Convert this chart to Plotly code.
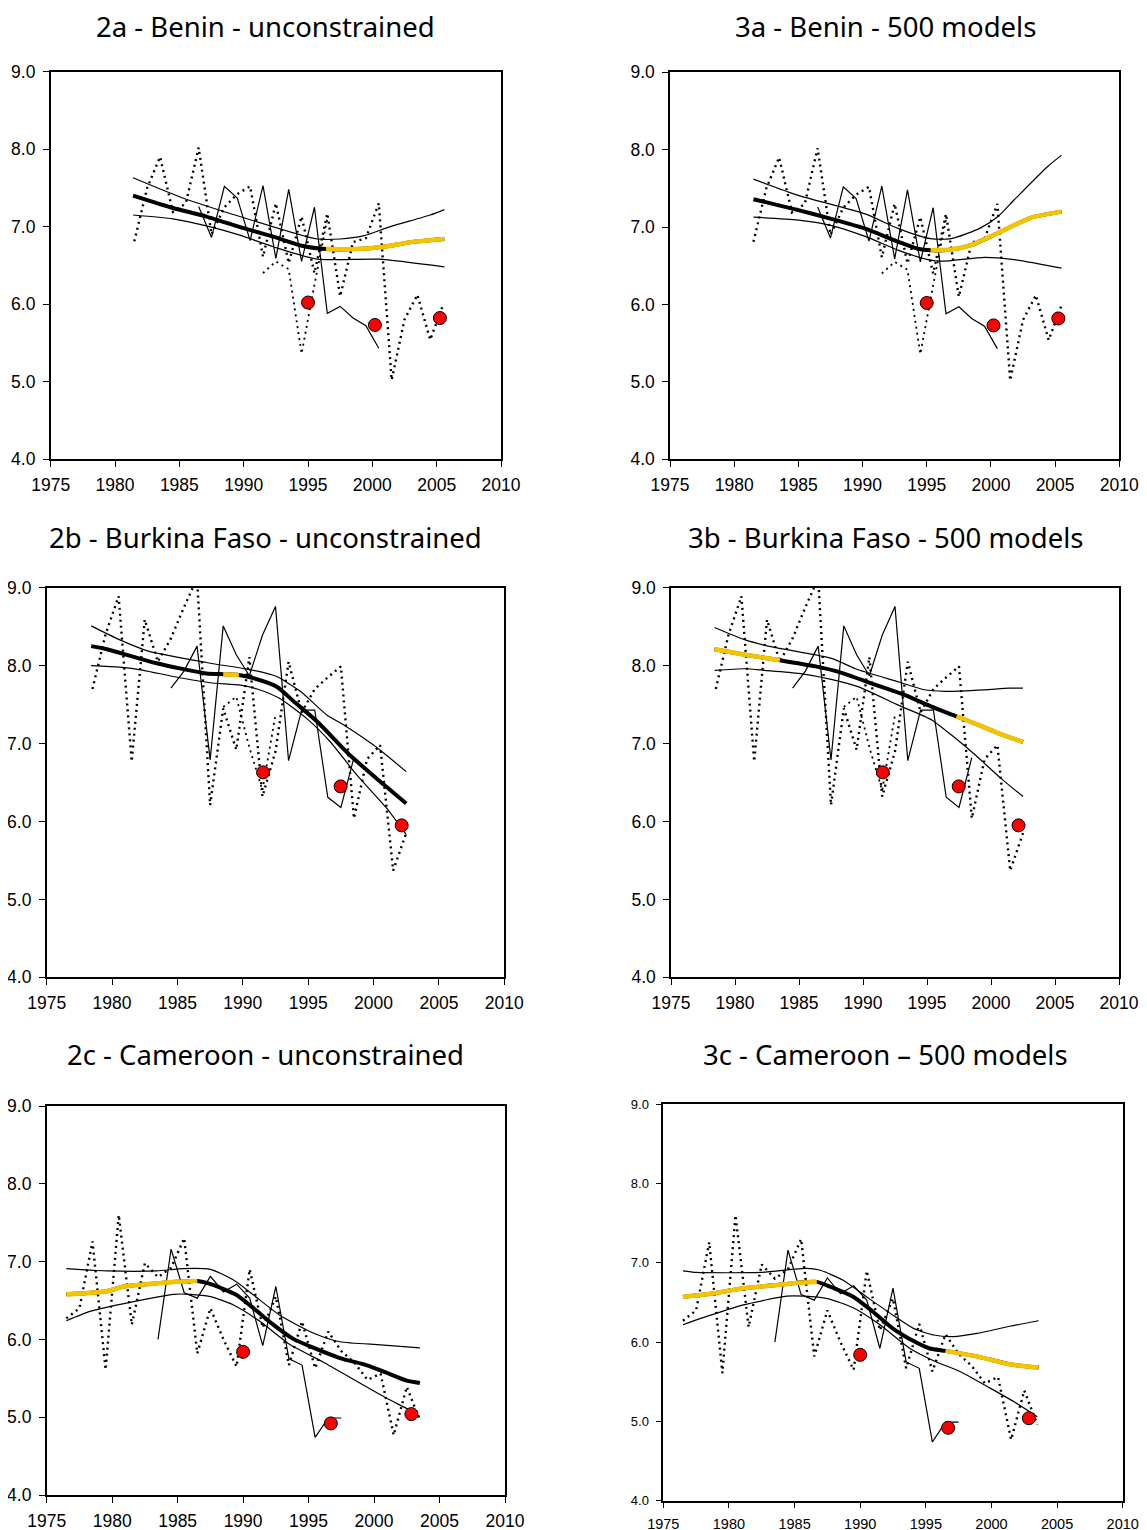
import plotly.graph_objects as go

# ---------------- DATA ----------------
# Observed series (shared by the "2" and "3" panels of each country)
benin_dot_a_x = [1981.5, 1982.5, 1983.5, 1984.5, 1985.5, 1986.5, 1987.5, 1988.5, 1989.5, 1990.5,
                 1991.5, 1992.5, 1993.5, 1994.5, 1995.5, 1996.5, 1997.5, 1998.5, 1999.5, 2000.5,
                 2001.5, 2002.5, 2003.5, 2004.5, 2005.5]
benin_dot_a_y = [6.81, 7.50, 7.90, 7.19, 7.30, 8.02, 6.90, 7.25, 7.42, 7.52,
                 6.61, 7.30, 6.53, 7.13, 6.40, 7.17, 6.10, 6.80, 6.85, 7.30,
                 5.02, 5.80, 6.12, 5.54, 5.99]
benin_dot_b_x = [1991.5, 1992.5, 1993.5, 1994.5, 1995.5, 1996.5]
benin_dot_b_y = [6.40, 6.55, 6.45, 5.36, 6.25, 7.10]
benin_solid_x = [1986.5, 1987.5, 1988.5, 1989.5, 1990.5, 1991.5, 1992.5, 1993.5, 1994.5, 1995.5,
                 1996.5, 1997.5, 1998.5, 1999.5, 2000.5]
benin_solid_y = [7.26, 6.86, 7.52, 7.37, 6.82, 7.53, 6.59, 7.48, 6.55, 7.25,
                 5.88, 5.97, 5.82, 5.72, 5.43]
benin_red_x = [1995.0, 2000.2, 2005.25]
benin_red_y = [6.02, 5.73, 5.82]

burkina_dot_a_x = [1978.5, 1979.5, 1980.5, 1981.5, 1982.5, 1983.5, 1984.5, 1985.5, 1986.5, 1987.5,
                   1988.5, 1989.5, 1990.5, 1991.5, 1992.5, 1993.5, 1994.5, 1995.5, 1996.5, 1997.5,
                   1998.5, 1999.5, 2000.5, 2001.5, 2002.5]
burkina_dot_a_y = [7.70, 8.40, 8.89, 6.77, 8.59, 8.05, 8.35, 8.75, 9.12, 6.21,
                   7.45, 6.92, 8.11, 6.32, 6.90, 8.05, 7.40, 7.70, 7.85, 7.99,
                   6.04, 6.80, 6.98, 5.37, 5.85]
burkina_dot_b_x = [1988.5, 1989.5, 1990.5, 1991.5, 1992.5]
burkina_dot_b_y = [7.47, 7.60, 6.95, 6.40, 7.37]
burkina_solid_x = [1984.5, 1985.5, 1986.5, 1987.5, 1988.5, 1989.5, 1990.5, 1991.5, 1992.5, 1993.5,
                   1994.5, 1995.5, 1996.5, 1997.5, 1998.5]
burkina_solid_y = [7.71, 7.93, 8.25, 6.79, 8.51, 8.14, 7.87, 8.39, 8.76, 6.78,
                   7.43, 7.43, 6.31, 6.18, 6.82]
burkina_red_x = [1991.55, 1997.48, 2002.15]
burkina_red_y = [6.63, 6.45, 5.95]

cameroon_dot_a_x = [1976.5, 1977.5, 1978.5, 1979.5, 1980.5, 1981.5, 1982.5, 1983.5, 1984.5, 1985.5,
                    1986.5, 1987.5, 1988.5, 1989.5, 1990.5, 1991.5, 1992.5, 1993.5, 1994.5, 1995.5,
                    1996.5, 1997.5, 1998.5, 1999.5, 2000.5, 2001.5, 2002.5, 2003.5]
cameroon_dot_a_y = [6.27, 6.40, 7.26, 5.61, 7.60, 6.19, 6.98, 6.80, 6.92, 7.30,
                    5.82, 6.40, 6.00, 5.65, 6.90, 6.15, 6.55, 5.67, 6.23, 5.63,
                    6.10, 5.85, 5.70, 5.48, 5.56, 4.77, 5.39, 4.96]
cameroon_solid_x = [1983.5, 1984.5, 1985.5, 1986.5, 1987.5, 1988.5, 1989.5, 1990.5, 1991.5, 1992.5,
                    1993.5, 1994.5, 1995.5, 1996.5, 1997.5]
cameroon_solid_y = [6.00, 7.16, 6.60, 6.53, 6.81, 6.61, 6.71, 6.53, 5.92, 6.68,
                    5.75, 5.67, 4.74, 4.99, 4.99]
cameroon_red_x = [1990.0, 1996.7, 2002.85]
cameroon_red_y = [5.84, 4.92, 5.04]

# Model fits: thick line, upper band, lower band; yellow spans are index ranges of the thick line
p2a_thick_x = [1981.4, 1984.5, 1987.1, 1990.0, 1992.3, 1994.6, 1996.4, 1998.8, 2000.9, 2003.0, 2005.6]
p2a_thick_y = [7.40, 7.24, 7.13, 6.98, 6.87, 6.75, 6.71, 6.71, 6.74, 6.80, 6.84]
p2a_yellow = [(6, 10)]
p2a_up_x = [1981.4, 1985.1, 1989.7, 1994.9, 1995.7, 1997.5, 1999.3, 2001.4, 2004.5, 2005.6]
p2a_up_y = [7.63, 7.38, 7.13, 6.87, 6.84, 6.84, 6.88, 7.00, 7.15, 7.22]
p2a_lo_x = [1981.4, 1984.5, 1987.1, 1989.7, 1992.3, 1995.7, 2000.5, 2005.6]
p2a_lo_y = [7.15, 7.10, 7.01, 6.89, 6.74, 6.58, 6.58, 6.48]

p3a_thick_x = [1981.5, 1985.0, 1987.5, 1990.2, 1992.8, 1994.3, 1995.3, 1996.9, 1998.5, 2000.5, 2003.1, 2005.5]
p3a_thick_y = [7.36, 7.22, 7.11, 6.98, 6.81, 6.72, 6.70, 6.71, 6.77, 6.92, 7.12, 7.20]
p3a_yellow = [(6, 11)]
p3a_up_x = [1981.5, 1985.0, 1990.2, 1992.8, 1995.3, 1996.9, 1999.2, 2000.5, 2001.8, 2004.4, 2005.5]
p3a_up_y = [7.62, 7.41, 7.17, 6.98, 6.85, 6.85, 6.99, 7.13, 7.35, 7.78, 7.93]
p3a_lo_x = [1981.5, 1985.0, 1987.6, 1990.2, 1992.8, 1995.1, 1996.2, 1999.5, 2001.8, 2005.5]
p3a_lo_y = [7.13, 7.09, 7.02, 6.88, 6.70, 6.58, 6.56, 6.61, 6.58, 6.47]

p2b_thick_x = [1978.4, 1979.6, 1983.4, 1987.2, 1988.5, 1989.7, 1990.8, 1992.6, 1993.9, 1995.7, 1998.2, 2000.8, 2002.5]
p2b_thick_y = [8.25, 8.21, 8.03, 7.90, 7.89, 7.88, 7.84, 7.73, 7.54, 7.28, 6.85, 6.47, 6.23]
p2b_yellow = [(4, 5)]
p2b_up_x = [1978.4, 1980.6, 1982.7, 1987.2, 1990.8, 1992.6, 1994.4, 1996.4, 1997.9, 2000.0, 2002.5]
p2b_up_y = [8.51, 8.33, 8.19, 8.04, 7.94, 7.86, 7.67, 7.37, 7.22, 6.98, 6.64]
p2b_lo_x = [1978.4, 1980.6, 1982.4, 1984.7, 1987.5, 1989.8, 1991.1, 1992.8, 1994.9, 1996.7, 1998.7, 2001.0, 2002.5]
p2b_lo_y = [8.00, 7.98, 7.94, 7.86, 7.78, 7.75, 7.70, 7.58, 7.32, 7.02, 6.60, 6.17, 5.83]

p3b_thick_x = [1978.4, 1980.8, 1983.5, 1986.3, 1988.1, 1990.7, 1993.0, 1995.4, 1997.3, 1999.3, 2000.6, 2002.5]
p3b_thick_y = [8.21, 8.14, 8.07, 7.99, 7.92, 7.77, 7.64, 7.47, 7.35, 7.22, 7.13, 7.02]
p3b_yellow = [(0, 2), (8, 11)]
p3b_up_x = [1978.4, 1980.8, 1982.9, 1987.6, 1989.4, 1992.8, 1994.8, 1996.4, 1999.5, 2001.4, 2002.5]
p3b_up_y = [8.49, 8.33, 8.24, 8.09, 7.96, 7.79, 7.69, 7.67, 7.69, 7.71, 7.71]
p3b_lo_x = [1978.4, 1980.8, 1982.3, 1985.0, 1987.6, 1989.6, 1992.8, 1995.4, 1997.2, 1998.8, 2000.8, 2002.5]
p3b_lo_y = [7.94, 7.96, 7.94, 7.90, 7.82, 7.73, 7.49, 7.30, 7.07, 6.85, 6.55, 6.32]

p2c_thick_x = [1976.5, 1979.6, 1980.9, 1983.4, 1984.9, 1986.5, 1987.7, 1989.5, 1990.8, 1992.3, 1993.8,
               1995.4, 1997.4, 1999.4, 2000.7, 2002.5, 2003.5]
p2c_thick_y = [6.58, 6.62, 6.68, 6.72, 6.74, 6.75, 6.70, 6.57, 6.40, 6.19, 6.01,
               5.89, 5.76, 5.67, 5.59, 5.47, 5.44]
p2c_yellow = [(0, 5)]
p2c_up_x = [1976.5, 1979.6, 1983.4, 1985.4, 1987.5, 1989.3, 1990.8, 1992.8, 1995.4, 1997.4, 2000.5, 2003.5]
p2c_up_y = [6.91, 6.88, 6.88, 6.91, 6.90, 6.76, 6.57, 6.31, 6.08, 5.97, 5.93, 5.89]
p2c_lo_x = [1976.5, 1978.3, 1980.9, 1984.7, 1985.9, 1987.5, 1989.3, 1991.3, 1993.6, 1996.1, 1998.7, 2001.0, 2002.5, 2003.5]
p2c_lo_y = [6.24, 6.36, 6.46, 6.58, 6.58, 6.55, 6.44, 6.23, 5.93, 5.71, 5.46, 5.24, 5.11, 5.01]

p3c_thick_x = [1976.5, 1978.6, 1981.1, 1983.6, 1985.2, 1986.7, 1987.7, 1989.5, 1991.0, 1992.5, 1994.1,
               1995.3, 1996.5, 1998.9, 2001.4, 2003.6]
p3c_thick_y = [6.57, 6.61, 6.68, 6.72, 6.75, 6.76, 6.70, 6.57, 6.38, 6.17, 6.01,
               5.92, 5.89, 5.82, 5.72, 5.68]
p3c_yellow = [(0, 5), (12, 15)]
p3c_up_x = [1976.5, 1977.5, 1982.4, 1985.9, 1986.9, 1988.7, 1990.5, 1992.5, 1994.1, 1995.6, 1997.1, 1998.9, 2001.4, 2003.6]
p3c_up_y = [6.90, 6.88, 6.88, 6.93, 6.91, 6.78, 6.57, 6.34, 6.17, 6.09, 6.07, 6.11, 6.20, 6.27]
p3c_lo_x = [1976.5, 1978.6, 1981.1, 1984.4, 1985.7, 1987.5, 1989.5, 1991.5, 1993.8, 1995.8, 1997.6, 1999.9, 2001.7, 2003.5]
p3c_lo_y = [6.22, 6.34, 6.47, 6.58, 6.58, 6.55, 6.43, 6.22, 5.92, 5.75, 5.63, 5.42, 5.25, 5.06]

titles = ["2a - Benin - unconstrained", "3a - Benin - 500 models",
          "2b - Burkina Faso - unconstrained", "3b - Burkina Faso - 500 models",
          "2c - Cameroon - unconstrained", "3c - Cameroon \u2013 500 models"]
x_ticks = [1975, 1980, 1985, 1990, 1995, 2000, 2005, 2010]
y_ticks = [4.0, 5.0, 6.0, 7.0, 8.0, 9.0]

# ---------------- LAYOUT CONSTANTS ----------------
W, H = 1147, 1530
OFF = 8                      # default body margin of the html page (figure drawn from page x=8,y=8)
# plot boxes in page pixels: (left, right, top, bottom)
boxes = [(50.7, 501.0, 71.7, 459.0), (670.0, 1119.3, 72.3, 459.3),
         (46.7, 504.3, 587.7, 977.3), (671.0, 1119.0, 587.7, 977.3),
         (46.7, 505.0, 1106.0, 1495.0), (663.3, 1122.7, 1104.3, 1500.7)]
title_pos = [(265.5, 27), (885, 27), (265.5, 537), (885, 537), (265.5, 1054), (885, 1054)]
x_font_sizes = [17.5, 17.5, 17.5, 17.5, 17.5, 14.5]
y_font_sizes = [17.5, 17.5, 17.5, 17.5, 17.5, 13]

YELLOW = "#F5C400"

panels = [
    (benin_dot_a_x, benin_dot_a_y, benin_dot_b_x, benin_dot_b_y, benin_solid_x, benin_solid_y,
     benin_red_x, benin_red_y, p2a_thick_x, p2a_thick_y, p2a_yellow, p2a_up_x, p2a_up_y, p2a_lo_x, p2a_lo_y),
    (benin_dot_a_x, benin_dot_a_y, benin_dot_b_x, benin_dot_b_y, benin_solid_x, benin_solid_y,
     benin_red_x, benin_red_y, p3a_thick_x, p3a_thick_y, p3a_yellow, p3a_up_x, p3a_up_y, p3a_lo_x, p3a_lo_y),
    (burkina_dot_a_x, burkina_dot_a_y, burkina_dot_b_x, burkina_dot_b_y, burkina_solid_x, burkina_solid_y,
     burkina_red_x, burkina_red_y, p2b_thick_x, p2b_thick_y, p2b_yellow, p2b_up_x, p2b_up_y, p2b_lo_x, p2b_lo_y),
    (burkina_dot_a_x, burkina_dot_a_y, burkina_dot_b_x, burkina_dot_b_y, burkina_solid_x, burkina_solid_y,
     burkina_red_x, burkina_red_y, p3b_thick_x, p3b_thick_y, p3b_yellow, p3b_up_x, p3b_up_y, p3b_lo_x, p3b_lo_y),
    (cameroon_dot_a_x, cameroon_dot_a_y, [], [], cameroon_solid_x, cameroon_solid_y,
     cameroon_red_x, cameroon_red_y, p2c_thick_x, p2c_thick_y, p2c_yellow, p2c_up_x, p2c_up_y, p2c_lo_x, p2c_lo_y),
    (cameroon_dot_a_x, cameroon_dot_a_y, [], [], cameroon_solid_x, cameroon_solid_y,
     cameroon_red_x, cameroon_red_y, p3c_thick_x, p3c_thick_y, p3c_yellow, p3c_up_x, p3c_up_y, p3c_lo_x, p3c_lo_y),
]

fig = go.Figure()
annotations = []
layout_axes = {}

for i, (p, box, tpos, xfs, yfs, title) in enumerate(
        zip(panels, boxes, title_pos, x_font_sizes, y_font_sizes, titles)):
    (dax, day, dbx, dby, sx, sy, rx, ry, tx, ty, yspans, ux, uy, lx, ly) = p
    n = i + 1
    xa = "x" if n == 1 else f"x{n}"
    ya = "y" if n == 1 else f"y{n}"
    common = dict(xaxis=xa, yaxis=ya, showlegend=False, hoverinfo="skip")

    fig.add_trace(go.Scatter(x=dax, y=day, mode="lines",
                             line=dict(color="black", width=2.4, dash="2px,4px"), **common))
    if dbx:
        fig.add_trace(go.Scatter(x=dbx, y=dby, mode="lines",
                                 line=dict(color="black", width=1.8, dash="2px,4px"), **common))
    fig.add_trace(go.Scatter(x=sx, y=sy, mode="lines", line=dict(color="black", width=1.2), **common))
    fig.add_trace(go.Scatter(x=ux, y=uy, mode="lines",
                             line=dict(color="black", width=1.2, shape="spline", smoothing=0.6), **common))
    fig.add_trace(go.Scatter(x=lx, y=ly, mode="lines",
                             line=dict(color="black", width=1.2, shape="spline", smoothing=0.6), **common))
    fig.add_trace(go.Scatter(x=tx, y=ty, mode="lines",
                             line=dict(color="black", width=4, shape="spline", smoothing=0.6), **common))
    for (a, b) in yspans:
        fig.add_trace(go.Scatter(x=tx[a:b + 1], y=ty[a:b + 1], mode="lines",
                                 line=dict(color=YELLOW, width=4.5, shape="spline", smoothing=0.6), **common))
    fig.add_trace(go.Scatter(x=rx, y=ry, mode="markers",
                             marker=dict(color="#FF0000", size=13, line=dict(color="black", width=1)),
                             **common))

    l, r, t, b = box
    axis_common = dict(showgrid=False, zeroline=False, showline=True, linecolor="black", linewidth=1.5,
                       mirror=True, ticks="outside", ticklen=6, tickwidth=1.2, tickcolor="black",
                       automargin=False)
    layout_axes["xaxis" if n == 1 else f"xaxis{n}"] = dict(
        domain=[(l - OFF) / W, (r - OFF) / W], anchor=ya, range=[1975, 2010], tickvals=x_ticks,
        ticktext=[str(v) for v in x_ticks], ticklabelstandoff=3,
        tickfont=dict(family="Liberation Sans, Arial", size=xfs, color="black"), **axis_common)
    layout_axes["yaxis" if n == 1 else f"yaxis{n}"] = dict(
        domain=[1 - (b - OFF) / H, 1 - (t - OFF) / H], anchor=xa, range=[4, 9], tickvals=y_ticks,
        ticktext=[f"{v:.1f}" for v in y_ticks], ticklabelstandoff=4,
        tickfont=dict(family="Liberation Sans, Arial", size=yfs, color="black"), **axis_common)

    annotations.append(dict(text=title, x=(tpos[0] - OFF) / W, y=1 - (tpos[1] - OFF) / H,
                            xref="paper", yref="paper", borderpad=0,
                            xanchor="center", yanchor="middle", showarrow=False,
                            font=dict(family="Noto Sans, DejaVu Sans", size=27.5, color="black")))

fig.update_layout(template="none", width=W, height=H, margin=dict(l=0, r=0, t=0, b=0, autoexpand=False),
                  paper_bgcolor="white", plot_bgcolor="white",
                  annotations=annotations, **layout_axes)

fig.write_html("out.html")
